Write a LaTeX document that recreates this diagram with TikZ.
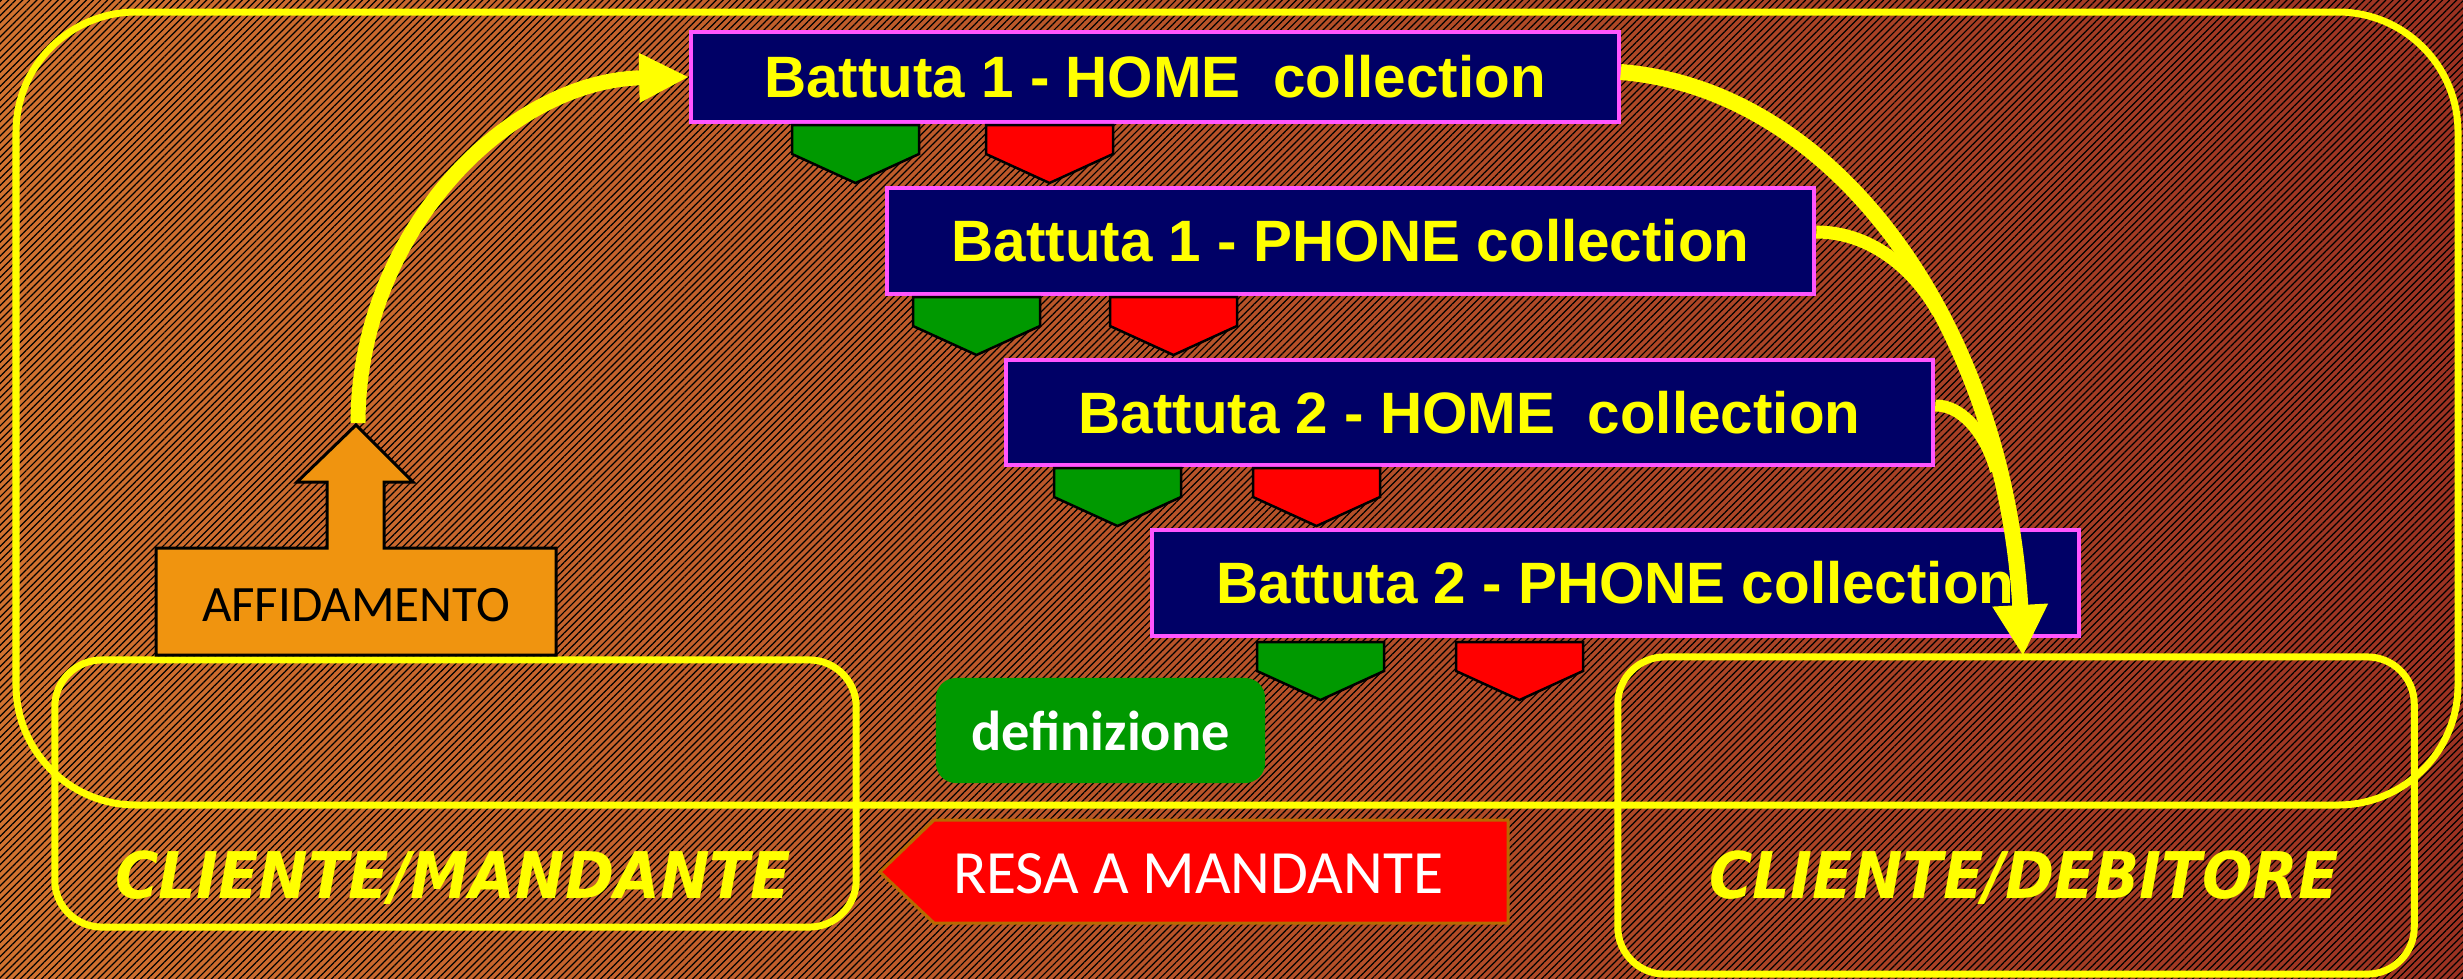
\documentclass[tikz,border=0pt]{standalone}
\usepackage{graphicx}
\usepackage{fontspec}
\setmainfont{Liberation Sans}
\newfontfamily\dejavu{DejaVu Sans}
\newfontfamily\carl{Carlito}
\usetikzlibrary{arrows.meta,patterns.meta,calc}
\definecolor{bgL}{HTML}{D2722F}
\definecolor{bgR}{HTML}{9C3222}
\definecolor{navy}{HTML}{000066}
\definecolor{magB}{HTML}{FF55FF}
\definecolor{pgreen}{HTML}{009900}
\definecolor{pred}{HTML}{FF0000}
\definecolor{affor}{HTML}{F0940F}
\definecolor{resaline}{HTML}{B86A00}
\definecolor{yel}{HTML}{FFFF00}
\tikzset{
  bluebox/.style={draw=magB, fill=navy, line width=0.04cm, inner sep=0pt,
    minimum width=9.27cm, text=yel,
    font=\fontsize{16.6pt}{20pt}\selectfont\bfseries},
  ybox/.style={draw=yel, line width=0.07cm, rounded corners=0.47cm, inner sep=0pt},
  ybig/.style={draw=yel, line width=0.07cm, rounded corners=1.2cm},
  cliente/.style={text=yel, inner sep=0pt,
    font=\dejavu\bfseries\itshape\fontsize{18.3pt}{22pt}\selectfont},
  yarrow/.style={draw=yel, line width=0.15cm, -{Triangle[width=0.46cm,length=0.5cm]}},
  yline/.style={draw=yel, line width=0.13cm},
  pentline/.style={draw=black, line width=0.025cm},
  pent/.pic={\draw[pentline, fill=#1] (0,0) -- (127,0) -- (127,29) -- (63.5,58) -- (0,29) -- cycle;}
}
\begin{document}
\begin{tikzpicture}[x=0.01cm,y=-0.01cm]
\useasboundingbox (0,0) rectangle (2463,978);
% background
\shade[left color=bgL, right color=bgR] (0,0) rectangle (2463,978);
\fill[pattern={Lines[angle=45,distance=0.05cm,line width=0.012cm]}, pattern color=black]
  (0,0) rectangle (2463,978);
% big frame
\draw[ybig] (16,12) rectangle (2458,805);
% client boxes
\node[ybox, minimum width=8.01cm, minimum height=2.67cm] (mand) at (455.5,793.5) {};
\node[ybox, minimum width=7.96cm, minimum height=3.17cm] (deb) at (2016,815.5) {};
\node[cliente] (mandlab) at (453,878) {\scalebox{0.92}[1]{CLIENTE/MANDANTE}};
\node[cliente] (deblab) at (2024,878) {\scalebox{0.92}[1]{CLIENTE/DEBITORE}};
% definizione
\node[fill=pgreen, rounded corners=0.2cm, minimum width=3.29cm, minimum height=1.05cm,
  inner sep=0pt, text=white, font=\carl\bfseries\fontsize{16pt}{19pt}\selectfont]
  (def) at (1100.5,730.5) {definizione};
% resa a mandante
\draw[fill=pred, draw=resaline, line width=0.03cm]
  (880,872) -- (934,820) -- (1508,820) -- (1508,923) -- (934,923) -- cycle;
\node[text=white, inner sep=0pt, font=\carl\fontsize{17.5pt}{20pt}\selectfont]
  (resa) at (1198,874) {RESA A MANDANTE};
% affidamento
\draw[fill=affor, draw=black, line width=0.03cm]
  (156,548) -- (327,548) -- (327,482) -- (297,482) -- (356,425) -- (413,482)
  -- (384,482) -- (384,548) -- (556,548) -- (556,655) -- (156,655) -- cycle;
\node[inner sep=0pt, font=\carl\fontsize{14.5pt}{17pt}\selectfont] (aff) at (356,605) {AFFIDAMENTO};
\coordinate (afftip) at (358,423);
% blue boxes
\node[bluebox, minimum height=0.9cm] (b1) at (1155,77) {Battuta 1 - HOME\ \ collection};
\node[bluebox, minimum height=1.06cm] (b2) at (1350.5,241) {Battuta 1 - PHONE collection};
\node[bluebox, minimum height=1.05cm] (b3) at (1469.5,412.5) {Battuta 2 - HOME\ \ collection};
\node[bluebox, minimum height=1.06cm] (b4) at (1615.5,583) {Battuta 2 - PHONE collection};
% pentagons
\pic at (792,125) {pent=pgreen};
\pic at (986,125) {pent=pred};
\pic at (913,297) {pent=pgreen};
\pic at (1110,297) {pent=pred};
\pic at (1054,468) {pent=pgreen};
\pic at (1253,468) {pent=pred};
\pic at (1257,642) {pent=pgreen};
\pic at (1456,642) {pent=pred};
% arrows
\draw[yarrow] (afftip) .. controls (358,232) and (509,80) .. (b1.west);
\coordinate (tipB) at (2023,656);
\draw[yline] ($(b2.east)+(0,-9)$) .. controls (1875,232) and (1918,275) .. (1938,312);
\draw[yline, line width=0.12cm] ($(b3.east)+(0,-7)$) .. controls (1965,405) and (1988,440) .. (1996,471);
\draw[yarrow, line width=0.16cm, -{Triangle[width=0.52cm,length=0.51cm]}]
  ($(b1.east)+(0,-5)$) .. controls (1840,90) and (2005,330) .. (tipB);
\end{tikzpicture}
\end{document}
